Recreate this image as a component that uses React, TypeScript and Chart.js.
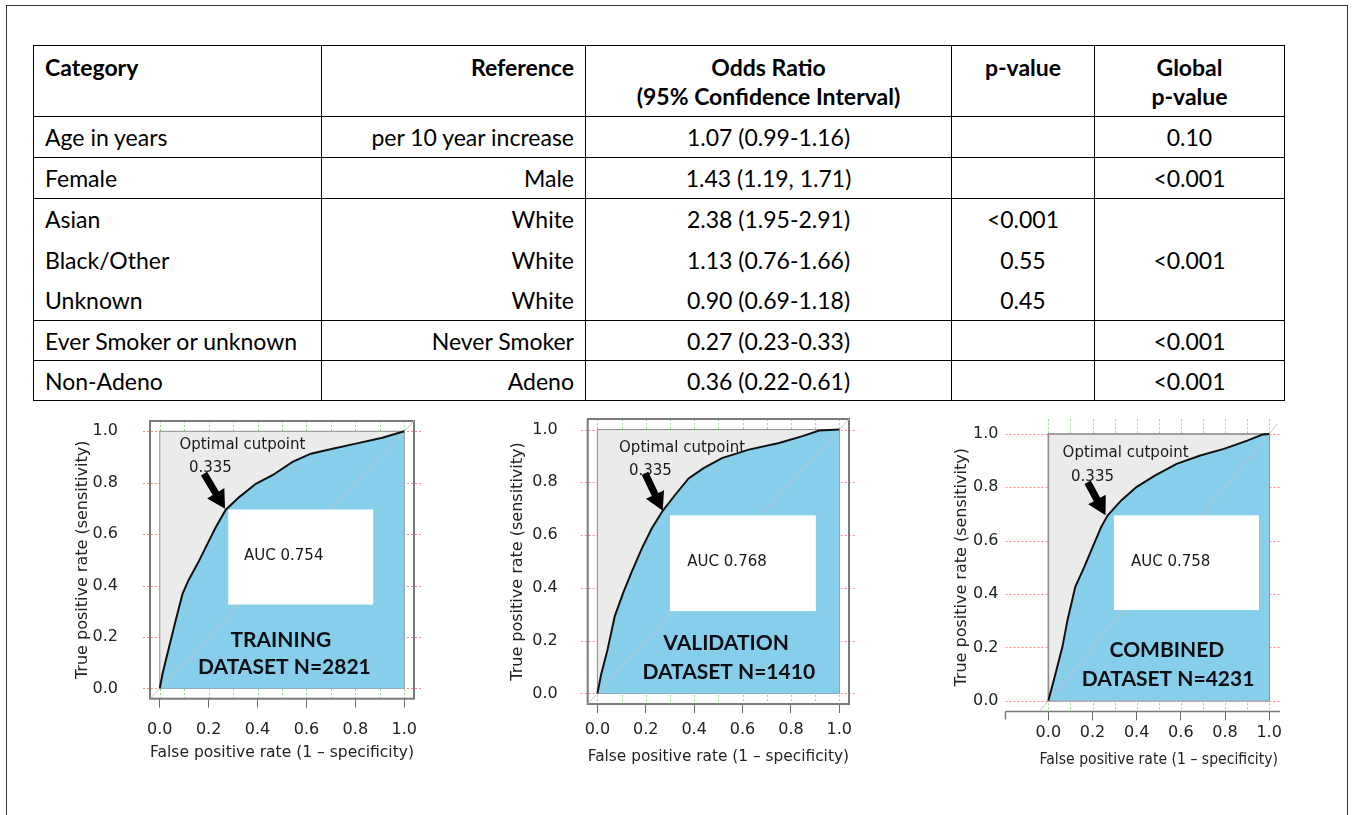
import React, { useEffect, useRef } from 'react';
import { Chart, registerables } from 'chart.js';

Chart.register(...registerables);

// ---------------- Table data ----------------
const tableHeaders = ['Category', 'Reference', 'Odds Ratio\n(95% Confidence Interval)', 'p-value', 'Global\np-value'];
const categories = ['Age in years', 'Female', 'Asian', 'Black/Other', 'Unknown', 'Ever Smoker or unknown', 'Non-Adeno'];
const references = ['per 10 year increase', 'Male', 'White', 'White', 'White', 'Never Smoker', 'Adeno'];
const oddsRatios = ['1.07 (0.99-1.16)', '1.43 (1.19, 1.71)', '2.38 (1.95-2.91)', '1.13 (0.76-1.66)', '0.90 (0.69-1.18)', '0.27 (0.23-0.33)', '0.36 (0.22-0.61)'];
const pValues = ['', '', '<0.001', '0.55', '0.45', '', ''];
const globalPValues = ['0.10', '<0.001', '<0.001', '', '', '<0.001', '<0.001'];
const groupSizes = [1, 1, 3, 1, 1];

// ---------------- ROC data ----------------
const trainingFpr = [0, 0.011, 0.031, 0.065, 0.093, 0.117, 0.161, 0.195, 0.229, 0.27, 0.325, 0.393, 0.461, 0.543, 0.618, 0.707, 0.802, 0.911, 1.0];
const trainingTpr = [0, 0.056, 0.134, 0.264, 0.368, 0.42, 0.497, 0.562, 0.627, 0.695, 0.744, 0.796, 0.829, 0.881, 0.913, 0.932, 0.952, 0.975, 1.0];

const validationFpr = [0, 0.015, 0.042, 0.072, 0.107, 0.141, 0.183, 0.224, 0.27, 0.321, 0.377, 0.439, 0.515, 0.626, 0.751, 0.848, 0.917, 1.0];
const validationTpr = [0, 0.07, 0.166, 0.293, 0.382, 0.459, 0.548, 0.624, 0.692, 0.752, 0.815, 0.854, 0.892, 0.924, 0.949, 0.975, 0.996, 1.0];

const combinedFpr = [0, 0.033, 0.064, 0.087, 0.122, 0.163, 0.201, 0.239, 0.269, 0.33, 0.399, 0.482, 0.581, 0.688, 0.795, 0.901, 0.97, 1.0];
const combinedTpr = [0, 0.103, 0.203, 0.303, 0.427, 0.502, 0.577, 0.651, 0.695, 0.751, 0.801, 0.844, 0.888, 0.919, 0.944, 0.975, 0.998, 1.0];

const axisTicks = [0, 0.2, 0.4, 0.6, 0.8, 1.0];
const minorTicks = [0, 0.1, 0.2, 0.3, 0.4, 0.5, 0.6, 0.7, 0.8, 0.9, 1.0];
const aucLabels = ['AUC 0.754', 'AUC 0.768', 'AUC 0.758'];
const datasetNames = ['TRAINING', 'VALIDATION', 'COMBINED'];
const datasetSizes = ['DATASET N=2821', 'DATASET N=1410', 'DATASET N=4231'];
const cutpointLabel = 'Optimal cutpoint';
const cutpointValue = '0.335';
const xAxisTitle = 'False positive rate (1 \u2013 specificity)';
const yAxisTitle = 'True positive rate (sensitivity)';

// ---------------- layout (not data) ----------------
type Spec = {
  fpr: number[]; tpr: number[]; idx: number;
  box: { left: number; top: number; width: number; height: number };
  pad: { top: number; right: number };
  yw: number; xh: number;
  yTickPad: number; xTickPad: number; xTitlePad: number; yTitlePad: number; xTitleSize: number;
  style: 'box' | 'axis';
  axisLeft: number;
  white: number[]; aucAt: number[]; optAt: number[]; valAt: number[]; arrow: number[]; nameAt: number[]; sizeAt: number[];
};

const specs: Spec[] = [
  {
    fpr: trainingFpr, tpr: trainingTpr, idx: 0,
    box: { left: 60, top: 410, width: 370, height: 360 },
    pad: { top: 11, right: 16 }, yw: 90, xh: 71.3,
    yTickPad: 32, xTickPad: 13, xTitlePad: 8, yTitlePad: 13, xTitleSize: 15.6,
    style: 'box', axisLeft: 0,
    white: [0.28, 0.326, 0.873, 0.696], aucAt: [0.507, 0.513], optAt: [0.338, 0.945], valAt: [0.207, 0.855],
    arrow: [0.181, 0.835, 0.267, 0.699], nameAt: [0.495, 0.186], sizeAt: [0.51, 0.082],
  },
  {
    fpr: validationFpr, tpr: validationTpr, idx: 1,
    box: { left: 500, top: 410, width: 370, height: 360 },
    pad: { top: 9, right: 21 }, yw: 87.7, xh: 66,
    yTickPad: 30, xTickPad: 7.5, xTitlePad: 4, yTitlePad: 8, xTitleSize: 15.6,
    style: 'box', axisLeft: 0,
    white: [0.3, 0.312, 0.903, 0.675], aucAt: [0.536, 0.497], optAt: [0.35, 0.93], valAt: [0.219, 0.841],
    arrow: [0.197, 0.834, 0.27, 0.692], nameAt: [0.532, 0.189], sizeAt: [0.543, 0.079],
  },
  {
    fpr: combinedFpr, tpr: combinedTpr, idx: 2,
    box: { left: 940, top: 410, width: 370, height: 380 },
    pad: { top: 13.3, right: 32 }, yw: 99.5, xh: 78.6,
    yTickPad: 41, xTickPad: 3, xTitlePad: 20, yTitlePad: 12.7, xTitleSize: 16.6,
    style: 'axis', axisLeft: -0.194,
    white: [0.297, 0.34, 0.954, 0.695], aucAt: [0.554, 0.52], optAt: [0.35, 0.928], valAt: [0.2, 0.838],
    arrow: [0.178, 0.819, 0.259, 0.695], nameAt: [0.537, 0.19], sizeAt: [0.542, 0.081],
  },
];

const SMALL_FONT = '"DejaVu Sans", sans-serif';

function buildConfig(spec: Spec): any {
  const points = spec.fpr.map((x, i) => ({ x, y: spec.tpr[i] }));
  const decor = {
    id: 'rocDecor' + spec.idx,
    beforeDatasetsDraw(chart: any) {
      const { ctx, chartArea: a, scales } = chart;
      const xs = scales.x, ys = scales.y;
      ctx.save();
      ctx.lineWidth = 1;
      ctx.setLineDash([2, 2]);
      ctx.strokeStyle = '#ff8a8a';
      const hl = spec.style === 'axis' ? xs.getPixelForValue(spec.axisLeft) : a.left - 7;
      const hr = spec.style === 'axis' ? a.right + 2 : a.right + 7;
      axisTicks.forEach((v) => {
        const py = Math.round(ys.getPixelForValue(v)) + 0.5;
        ctx.beginPath(); ctx.moveTo(hl, py); ctx.lineTo(hr, py); ctx.stroke();
      });
      ctx.strokeStyle = '#8ee08e';
      minorTicks.forEach((v) => {
        const px = Math.round(xs.getPixelForValue(v)) + 0.5;
        ctx.beginPath(); ctx.moveTo(px, a.top - (spec.style === 'axis' ? 4 : 0)); ctx.lineTo(px, a.bottom); ctx.stroke();
      });
      ctx.setLineDash([]);
      const x0 = xs.getPixelForValue(0), x1 = xs.getPixelForValue(1);
      const y0 = ys.getPixelForValue(0), y1 = ys.getPixelForValue(1);
      ctx.fillStyle = '#ebebeb';
      ctx.fillRect(x0, y1, x1 - x0, y0 - y1);
      ctx.strokeStyle = '#8c8c8c';
      ctx.lineWidth = spec.style === 'axis' ? 1.6 : 1;
      ctx.strokeRect(x0, y1, x1 - x0, y0 - y1);
      ctx.strokeStyle = '#7a7a7a';
      if (spec.style === 'box') {
        ctx.lineWidth = 2;
        ctx.strokeRect(a.left, a.top, a.right - a.left, a.bottom - a.top);
      } else {
        ctx.lineWidth = 1.5;
        ctx.beginPath(); ctx.moveTo(hl, a.bottom); ctx.lineTo(a.right + 2, a.bottom); ctx.stroke();
        ctx.beginPath(); ctx.moveTo(hl, a.bottom); ctx.lineTo(hl, a.bottom + 8); ctx.stroke();
      }
      ctx.restore();
    },
    afterDatasetsDraw(chart: any) {
      const { ctx, scales } = chart;
      const xs = scales.x, ys = scales.y;
      const px = (v: number) => xs.getPixelForValue(v);
      const py = (v: number) => ys.getPixelForValue(v);
      ctx.save();
      const [wx1, wy1, wx2, wy2] = spec.white;
      ctx.fillStyle = '#ffffff';
      ctx.fillRect(px(wx1), py(wy2), px(wx2) - px(wx1), py(wy1) - py(wy2));
      ctx.fillStyle = '#1a1a1a';
      ctx.textAlign = 'center';
      ctx.textBaseline = 'middle';
      ctx.font = '15px ' + SMALL_FONT;
      ctx.fillText(aucLabels[spec.idx], px(spec.aucAt[0]), py(spec.aucAt[1]));
      ctx.fillText(cutpointLabel, px(spec.optAt[0]), py(spec.optAt[1]));
      ctx.fillText(cutpointValue, px(spec.valAt[0]), py(spec.valAt[1]));
      const [tx, ty, hx, hy] = spec.arrow;
      const T = { x: px(tx), y: py(ty) }, P = { x: px(hx), y: py(hy) };
      const len = Math.hypot(P.x - T.x, P.y - T.y);
      const d = { x: (P.x - T.x) / len, y: (P.y - T.y) / len };
      const n = { x: -d.y, y: d.x };
      const headL = 18, headW = 10, shaftW = 3.6;
      const B = { x: P.x - d.x * headL, y: P.y - d.y * headL };
      ctx.fillStyle = '#000';
      ctx.beginPath();
      ctx.moveTo(T.x + n.x * shaftW, T.y + n.y * shaftW);
      ctx.lineTo(B.x + n.x * shaftW, B.y + n.y * shaftW);
      ctx.lineTo(B.x + n.x * headW, B.y + n.y * headW);
      ctx.lineTo(P.x, P.y);
      ctx.lineTo(B.x - n.x * headW, B.y - n.y * headW);
      ctx.lineTo(B.x - n.x * shaftW, B.y - n.y * shaftW);
      ctx.lineTo(T.x - n.x * shaftW, T.y - n.y * shaftW);
      ctx.closePath();
      ctx.fill();
      ctx.fillStyle = '#0d0d14';
      ctx.font = 'bold 21px Lato, sans-serif';
      ctx.fillText(datasetNames[spec.idx], px(spec.nameAt[0]), py(spec.nameAt[1]));
      ctx.fillText(datasetSizes[spec.idx], px(spec.sizeAt[0]), py(spec.sizeAt[1]));
      ctx.restore();
    },
  };

  return {
    type: 'line',
    data: {
      datasets: [
        { label: 'ROC', data: points, borderColor: '#111', borderWidth: 2, pointRadius: 0, fill: false, tension: 0 },
        { label: 'chance', data: [{ x: -0.04, y: -0.04 }, { x: 1.04, y: 1.04 }], borderColor: '#c4c4c4', borderWidth: 1, pointRadius: 0, fill: false },
        { label: 'area', data: points, borderWidth: 0, borderColor: 'rgba(0,0,0,0)', backgroundColor: '#87ceeb', pointRadius: 0, fill: { value: 0 }, tension: 0 },
      ],
    },
    options: {
      responsive: false,
      animation: false,
      events: [],
      layout: { padding: { top: spec.pad.top, right: spec.pad.right, left: 0, bottom: 0 } },
      plugins: { legend: { display: false }, tooltip: { enabled: false } },
      scales: {
        x: {
          type: 'linear', min: -0.04, max: 1.04,
          afterBuildTicks: (s: any) => { s.ticks = axisTicks.map((v) => ({ value: v })); },
          afterFit: (s: any) => { s.height = spec.xh; s.paddingLeft = 0; s.paddingRight = 0; },
          grid: { drawOnChartArea: false, drawTicks: true, tickLength: 9, color: '#6a6a6a', lineWidth: 1 },
          border: { display: false },
          ticks: { padding: spec.xTickPad, color: '#222', font: { family: SMALL_FONT, size: 16 }, callback: (v: any) => Number(v).toFixed(1), maxRotation: 0, autoSkip: false },
          title: { display: true, text: xAxisTitle, color: '#222', font: { family: SMALL_FONT, size: spec.xTitleSize }, padding: { top: 0, bottom: spec.xTitlePad } },
        },
        y: {
          type: 'linear', min: -0.04, max: 1.04,
          afterBuildTicks: (s: any) => { s.ticks = axisTicks.map((v) => ({ value: v })); },
          afterFit: (s: any) => { s.width = spec.yw; s.paddingTop = 0; s.paddingBottom = 0; },
          grid: { display: false, drawTicks: false },
          border: { display: false },
          ticks: { padding: spec.yTickPad, color: '#222', font: { family: SMALL_FONT, size: 16 }, callback: (v: any) => Number(v).toFixed(1), autoSkip: false },
          title: { display: true, text: yAxisTitle, color: '#222', font: { family: SMALL_FONT, size: 16 }, padding: { top: spec.yTitlePad, bottom: 0 } },
        },
      },
    },
    plugins: [decor],
  };
}

function RocChart({ spec }: { spec: Spec }) {
  const ref = useRef<HTMLCanvasElement>(null);
  useEffect(() => {
    const chart = new Chart(ref.current as HTMLCanvasElement, buildConfig(spec));
    return () => chart.destroy();
  }, [spec]);
  return (
    <canvas
      ref={ref}
      width={spec.box.width}
      height={spec.box.height}
      style={{ position: 'absolute', left: spec.box.left, top: spec.box.top, width: spec.box.width, height: spec.box.height }}
    />
  );
}

const BORDER = '1.5px solid #000';
const rowHeights = [41, 41, 41, 40, 41, 40, 40];
const colWidths = [288, 264, 366, 143, 190];

function OddsTable() {
  const base: React.CSSProperties = {
    borderLeft: BORDER, borderRight: BORDER, padding: '0 11px', whiteSpace: 'nowrap',
    fontFamily: 'Lato, sans-serif', fontSize: 23, color: '#000', lineHeight: '26px',
  };
  const head: React.CSSProperties = { ...base, borderTop: BORDER, fontWeight: 700, verticalAlign: 'top', paddingTop: 7, lineHeight: '29px' };
  const headAlign: any[] = ['left', 'right', 'center', 'center', 'center'];
  const rows: any[] = [];
  let idx = 0;
  groupSizes.forEach((size) => {
    for (let k = 0; k < size; k++) {
      const i = idx++;
      const isLast = i === categories.length - 1;
      const st: React.CSSProperties = { ...base, borderTop: k === 0 ? BORDER : 'none', borderBottom: isLast ? BORDER : 'none', verticalAlign: 'middle' };
      rows.push(
        <tr key={i} style={{ height: rowHeights[i] }}>
          <td style={{ ...st, textAlign: 'left' }}>{categories[i]}</td>
          <td style={{ ...st, textAlign: 'right' }}>{references[i]}</td>
          <td style={{ ...st, textAlign: 'center' }}>{oddsRatios[i]}</td>
          <td style={{ ...st, textAlign: 'center' }}>{pValues[i]}</td>
          {k === 0 ? (
            <td rowSpan={size} style={{ ...st, textAlign: 'center', borderBottom: isLast ? BORDER : 'none' }}>{globalPValues[i]}</td>
          ) : null}
        </tr>
      );
    }
  });
  return (
    <table style={{ position: 'absolute', left: 33, top: 45, width: 1251, borderCollapse: 'collapse', tableLayout: 'fixed' }}>
      <colgroup>
        {colWidths.map((w, i) => <col key={i} style={{ width: w }} />)}
      </colgroup>
      <thead>
        <tr style={{ height: 71 }}>
          {tableHeaders.map((h, i) => (
            <th key={i} style={{ ...head, textAlign: headAlign[i] }}>
              {h.split('\n').map((line, j) => <div key={j}>{line}</div>)}
            </th>
          ))}
        </tr>
      </thead>
      <tbody>{rows}</tbody>
    </table>
  );
}

export default function App() {
  return (
    <div style={{ position: 'absolute', left: 0, top: 0, width: 1352, height: 815, overflow: 'hidden', background: '#fff' }}>
      <div style={{ position: 'absolute', left: 6, top: 5, width: 1342, height: 840, border: '1.5px solid #333', boxSizing: 'border-box' }} />
      <OddsTable />
      {specs.map((s) => <RocChart key={s.idx} spec={s} />)}
    </div>
  );
}
